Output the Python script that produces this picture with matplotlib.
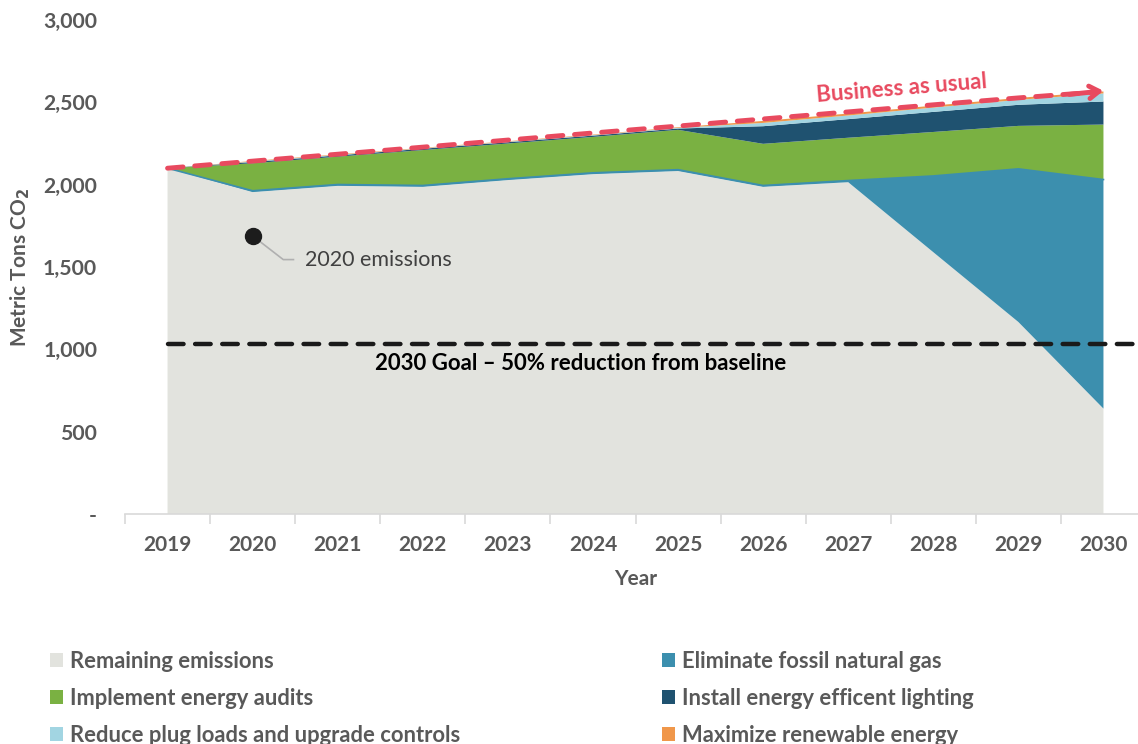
import matplotlib
matplotlib.use("Agg")
import matplotlib.pyplot as plt
import numpy as np
from matplotlib.patches import Patch

plt.rcParams['font.family'] = ['Lato', 'DejaVu Sans']

years = ["2019", "2020", "2021", "2022", "2023", "2024", "2025", "2026", "2027", "2028", "2029", "2030"]
remaining = [2100, 1955, 1993, 1987, 2028, 2064, 2083, 1987, 2015, 1590, 1166, 640]
fossil_gas = [0, 8, 8, 8, 8, 8, 8, 8, 10, 463, 930, 1391]
energy_audits = [0, 167, 169, 215, 214, 218, 242, 253, 260, 267, 261, 334]
lighting = [0, 8, 8, 8, 8, 8, 8, 107, 113, 122, 128, 140]
plug_loads = [0, 3, 3, 3, 3, 3, 4, 20, 22, 26, 30, 49]
renewable = [0, 3, 3, 3, 3, 3, 4, 12, 12, 12, 12, 12]
business_as_usual = [2100, 2143, 2185, 2228, 2271, 2314, 2356, 2399, 2442, 2485, 2527, 2570]
goal = 1030
emissions_2020 = 1689

series_names = ["Remaining emissions", "Eliminate fossil natural gas", "Implement energy audits",
                "Install energy efficent lighting", "Reduce plug loads and upgrade controls",
                "Maximize renewable energy"]
colors = ["#E2E3DE", "#3C8FAE", "#7AB142", "#1F5270", "#A2D5E2", "#F0974A"]

W, H = 1138, 744
fig = plt.figure(figsize=(W / 100, H / 100), dpi=100)
left_px, right_px, top_px, bot_px = 125, 1146, 20, 514
ax = fig.add_axes([left_px / W, 1 - bot_px / H, (right_px - left_px) / W, (bot_px - top_px) / H])
ax.patch.set_alpha(0)

x = np.arange(len(years))
ax.stackplot(x, remaining, fossil_gas, energy_audits, lighting, plug_loads, renewable,
             colors=colors, linewidth=0)

# thin teal edge along the top of remaining emissions
ax.plot(x, np.array(remaining) + np.array(fossil_gas), color=colors[1], lw=1.2, zorder=2)

ax.set_xlim(-0.5, 11.5)
ax.set_ylim(0, 3000)

# Goal line
ax.plot([0, 11.35], [goal, goal], color="#1a1a1a", lw=3.2, dashes=(3.5, 2.6),
        solid_capstyle='round', dash_capstyle='round', zorder=4)
ax.text(4.86, goal - 50, "2030 Goal \u2013 50% reduction from baseline", ha='center', va='top',
        fontsize=16, fontweight='bold', color='black', zorder=5)

# Business as usual line with arrow
ax.plot(x[:-1].tolist() + [10.85], business_as_usual[:-1] + [2560], color="#E84A5F", lw=3.5,
        dashes=(3.2, 2.4), dash_capstyle='round', zorder=5)
ax.annotate("", xy=(x[-1], business_as_usual[-1]), xytext=(10.6, 2548),
            arrowprops=dict(arrowstyle='->,head_length=0.7,head_width=0.45', color="#E84A5F",
                            lw=3.5, shrinkA=0, shrinkB=0), zorder=6)
ax.text(8.64, 2520, "Business as usual", rotation=4.7, rotation_mode='anchor', ha='center',
        va='bottom', fontsize=16, fontweight='bold', color="#E84A5F", zorder=6)

# 2020 emissions annotation
ax.plot([1, 1.36, 1.48], [emissions_2020, 1545, 1545], color="#b0b0b0", lw=1.2, zorder=5)
ax.plot([1], [emissions_2020], 'o', color="#1c1c1c", ms=11.5, zorder=6)
ax.text(1.62, 1545, "2020 emissions", ha='left', va='center', fontsize=15.5, color="#404040", zorder=6)

# axes styling
for s in ['top', 'right', 'left']:
    ax.spines[s].set_visible(False)
ax.spines['bottom'].set_color('#d9d9d9')
ax.spines['bottom'].set_linewidth(1.2)

ax.set_yticks([0, 500, 1000, 1500, 2000, 2500, 3000])
ax.set_yticklabels(["-", "500", "1,000", "1,500", "2,000", "2,500", "3,000"])
ax.tick_params(axis='y', length=0, pad=20, labelsize=15.3, labelcolor='#595959')
for lab in ax.get_yticklabels():
    lab.set_fontweight('bold')

ax.set_xticks(x)
ax.set_xticklabels(years)
ax.tick_params(axis='x', which='major', length=0, pad=15, labelsize=15, labelcolor='#595959')
for lab in ax.get_xticklabels():
    lab.set_fontweight('bold')
ax.set_xticks(np.arange(-0.5, 11.6, 1), minor=True)
ax.tick_params(axis='x', which='minor', length=7, width=1.2, color='#d9d9d9')

ax.set_xlabel("Year", fontsize=15, fontweight='bold', color='#595959', labelpad=10)
ax.set_ylabel("Metric Tons CO$_\\mathbf{2}$", fontsize=15, fontweight='bold', color='#595959', labelpad=8)

# Legend (two columns, row-major order as in reference)
handles = [Patch(facecolor=c, edgecolor='none') for c in colors]
columns = [([0, 2, 4], 50), ([1, 3, 5], 662)]
for idxs, xpx in columns:
    leg = fig.legend([handles[i] for i in idxs], [series_names[i] for i in idxs],
                     loc='upper left', bbox_to_anchor=(xpx / W, 1 - 651 / H), ncol=1, frameon=False,
                     fontsize=15.8, handlelength=0.6, handleheight=0.6, handletextpad=0.3,
                     labelspacing=0.72, borderpad=0, borderaxespad=0)
    for t in leg.get_texts():
        t.set_fontweight('bold')
        t.set_color('#595959')

fig.savefig("out.png", dpi=100)
